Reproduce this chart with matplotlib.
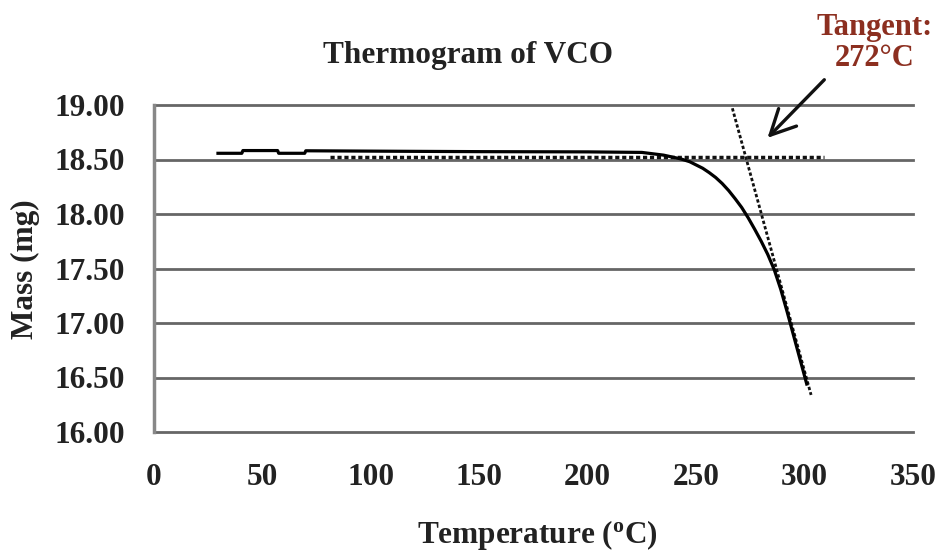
import matplotlib
matplotlib.use("Agg")
import matplotlib.pyplot as plt

temp = [29.5, 40.5, 41.0, 57.0, 57.5, 69.5, 70.0, 118, 151.5, 200, 225, 235, 243,
        247, 250, 253, 256, 259, 262, 265, 268, 271, 274, 277, 280, 283, 286,
        289, 292, 295, 298, 301]
mass = [18.557, 18.557, 18.582, 18.582, 18.557, 18.557, 18.580, 18.575, 18.572, 18.57,
        18.565, 18.54, 18.505, 18.48, 18.45, 18.42, 18.38, 18.335, 18.28, 18.215,
        18.14, 18.06, 17.965, 17.86, 17.75, 17.63, 17.49, 17.31, 17.10, 16.88,
        16.66, 16.44]

# dotted baseline and tangent
base_t = [81, 309]
base_m = [18.52, 18.52]
tan_t = [266.7, 303]
tan_m = [18.97, 16.34]

xticks = [0, 50, 100, 150, 200, 250, 300, 350]
yticks = [16.0, 16.5, 17.0, 17.5, 18.0, 18.5, 19.0]

W, H = 940, 554
fig = plt.figure(figsize=(W / 100, H / 100), dpi=100)
ax = fig.add_axes([154 / W, 1 - 432 / H, (913 - 154) / W, (432 - 105) / H])

serif = "Liberation Serif"
fs = 22.5

ax.set_xlim(0, 350)
ax.set_ylim(16, 19)
ax.set_xticks(xticks)
ax.set_yticks(yticks)
ax.set_xticklabels([str(t) for t in xticks], fontfamily=serif, fontweight="bold", fontsize=fs)
ax.set_yticklabels([f"{v:.2f}" for v in yticks], fontfamily=serif, fontweight="bold", fontsize=fs)
ax.tick_params(axis="both", length=0, colors="#222222")
ax.tick_params(axis="x", pad=22)
ax.tick_params(axis="y", pad=21)

for v in yticks:
    ax.axhline(v, color="#666666", lw=2, zorder=1, clip_on=False)

for s in ["top", "right", "bottom"]:
    ax.spines[s].set_visible(False)
ax.spines["left"].set_color("#888888")
ax.spines["left"].set_linewidth(2.5)

ax.plot(base_t, base_m, color="#111111", lw=2.5, linestyle=(0, (1.2, 0.8)), zorder=3)
ax.plot(tan_t, tan_m, color="#111111", lw=2, linestyle=(0, (1.2, 0.8)), zorder=3)
ax.plot(temp, mass, color="black", lw=2.3, zorder=4)

ax.annotate("", xy=(282, 18.68), xytext=(310, 19.25),
            arrowprops=dict(arrowstyle="->,head_length=0.9,head_width=0.45",
                            color="#111111", lw=2.4, mutation_scale=20),
            annotation_clip=False)

fig.text(468 / W, 1 - 55 / H, "Thermogram of VCO", ha="center", va="center",
         fontfamily=serif, fontweight="bold", fontsize=fs, color="#222222")
fig.text(875 / W, 1 - 27 / H, "Tangent:", ha="center", va="center",
         fontfamily=serif, fontweight="bold", fontsize=22, color="#8c2f20")
fig.text(875 / W, 1 - 58 / H, "272\u00b0C", ha="center", va="center",
         fontfamily=serif, fontweight="bold", fontsize=22, color="#8c2f20")
fig.text(537 / W, 1 - 535 / H, r"Temperature ($\mathregular{^{o}}$C)", ha="center", va="center",
         fontfamily=serif, fontweight="bold", fontsize=fs, color="#222222")
fig.text(25 / W, 1 - 269 / H, "Mass (mg)", ha="center", va="center", rotation=90,
         fontfamily=serif, fontweight="bold", fontsize=fs, color="#222222")

fig.savefig("out.png", dpi=100, facecolor="white")
